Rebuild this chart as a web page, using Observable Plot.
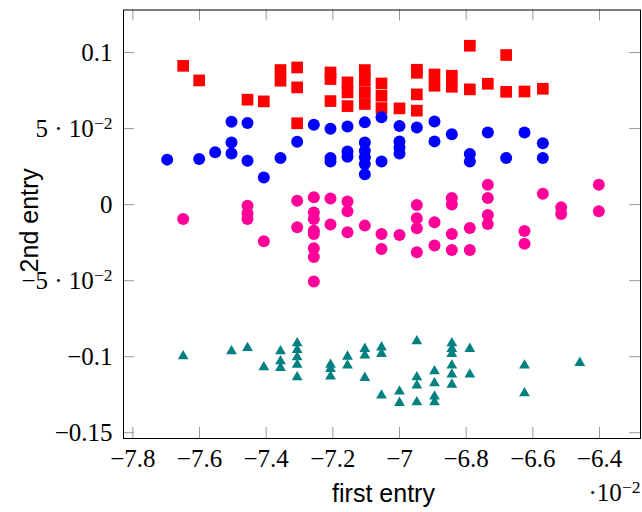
<!DOCTYPE html>
<html><head><meta charset="utf-8">
<script src="https://cdn.jsdelivr.net/npm/d3@7"></script>
<script src="https://cdn.jsdelivr.net/npm/@observablehq/plot@0.6"></script>
<style>body{margin:0;background:#fff}</style>
</head><body><div id="chart"></div>
<script>
// x values are in units of 10^-2 (as the axis shows)
const redX = [-7.649,-7.601,-7.456,-7.407,-7.357,-7.357,-7.307,-7.307,-7.307,-7.207,-7.207,-7.207,-7.156,-7.156,-7.156,-7.104,-7.104,-7.104,-7.104,-7.054,-7.054,-7.054,-7.000,-6.948,-6.948,-6.948,-6.948,-6.895,-6.895,-6.843,-6.843,-6.789,-6.789,-6.735,-6.680,-6.680,-6.625,-6.570];
const redY = [0.0913,0.0817,0.0690,0.0679,0.0885,0.0815,0.0902,0.0771,0.0535,0.0869,0.0826,0.0681,0.0804,0.0738,0.0648,0.0885,0.0815,0.0738,0.0662,0.0797,0.0716,0.0635,0.0633,0.0887,0.0867,0.0725,0.0618,0.0856,0.0782,0.0848,0.0775,0.1045,0.0758,0.0795,0.0984,0.0742,0.0744,0.0762];

const blueX = [-7.697,-7.601,-7.553,-7.504,-7.504,-7.504,-7.456,-7.456,-7.407,-7.357,-7.307,-7.257,-7.207,-7.207,-7.207,-7.156,-7.156,-7.156,-7.104,-7.104,-7.104,-7.104,-7.104,-7.104,-7.054,-7.054,-7.000,-7.000,-7.000,-7.000,-6.948,-6.895,-6.895,-6.843,-6.789,-6.789,-6.735,-6.680,-6.625,-6.570,-6.570];
const blueY = [0.0296,0.0300,0.0344,0.0545,0.0409,0.0337,0.0537,0.0289,0.0179,0.0307,0.0414,0.0526,0.0499,0.0307,0.0284,0.0514,0.0350,0.0315,0.0541,0.0409,0.0355,0.0311,0.0267,0.0200,0.0574,0.0283,0.0517,0.0416,0.0376,0.0337,0.0508,0.0547,0.0416,0.0463,0.0333,0.0284,0.0475,0.0307,0.0475,0.0403,0.0307];

const pinkX = [-7.649,-7.456,-7.456,-7.456,-7.407,-7.307,-7.307,-7.257,-7.257,-7.257,-7.257,-7.257,-7.257,-7.257,-7.257,-7.207,-7.207,-7.156,-7.156,-7.156,-7.104,-7.054,-7.054,-7.000,-6.948,-6.948,-6.948,-6.948,-6.895,-6.895,-6.843,-6.843,-6.843,-6.843,-6.789,-6.789,-6.735,-6.735,-6.735,-6.735,-6.625,-6.625,-6.570,-6.515,-6.515,-6.402,-6.402];
const pinkY = [-0.0094,-0.0007,-0.0057,-0.0094,-0.0241,0.0026,-0.0149,0.0048,-0.0051,-0.0094,-0.0171,-0.0193,-0.0287,-0.0345,-0.0505,0.0041,-0.0131,0.0020,-0.0044,-0.0182,-0.0138,-0.0193,-0.0291,-0.0199,-0.0003,-0.0090,-0.0156,-0.0313,-0.0116,-0.0269,0.0044,0.0001,-0.0193,-0.0298,-0.0153,-0.0298,0.0130,0.0044,-0.0068,-0.0127,-0.0173,-0.0258,0.0072,-0.0018,-0.0061,0.0131,-0.0044];

const tealX = [-7.649,-7.504,-7.456,-7.407,-7.357,-7.357,-7.357,-7.307,-7.307,-7.307,-7.307,-7.307,-7.207,-7.207,-7.207,-7.156,-7.156,-7.104,-7.104,-7.104,-7.054,-7.054,-7.054,-7.000,-7.000,-6.948,-6.948,-6.948,-6.948,-6.895,-6.895,-6.895,-6.895,-6.843,-6.843,-6.843,-6.843,-6.843,-6.843,-6.789,-6.789,-6.625,-6.625,-6.459];
const tealY = [-0.0997,-0.0964,-0.0942,-0.1069,-0.0964,-0.1030,-0.1073,-0.0911,-0.0955,-0.1003,-0.1053,-0.1135,-0.1053,-0.1080,-0.1130,-0.0999,-0.1058,-0.0948,-0.0992,-0.1139,-0.0938,-0.0981,-0.1255,-0.1229,-0.1303,-0.0898,-0.1135,-0.1189,-0.1299,-0.1095,-0.1174,-0.1261,-0.1299,-0.0911,-0.0948,-0.0981,-0.1058,-0.1117,-0.1183,-0.0948,-0.1117,-0.1058,-0.1240,-0.1040];

const xTicks = [-7.8,-7.6,-7.4,-7.2,-7,-6.8,-6.6,-6.4];
const yTicks = [0.1,0.05,0,-0.05,-0.1,-0.15];
const yTickLabels = ["0.1","5 · 10^−2","0","−5 · 10^−2","−0.1","−0.15"];
const xLabel = "first entry";
const xMultiplier = "·10^−2";
const yLabel = "2nd entry";

const zip = (xs, ys) => xs.map((x, i) => ({x, y: ys[i]}));
const red = zip(redX, redY), blue = zip(blueX, blueY), pink = zip(pinkX, pinkY), teal = zip(tealX, tealY);

const W = 642, H = 512, mL = 123, mR = 2, mT = 9.5, mB = 74;
const innerW = W - mL - mR, innerH = H - mT - mB, tickLen = 11;
const serif = "'Liberation Serif', 'DejaVu Serif', serif";
const sans = "'Liberation Sans', 'DejaVu Sans', sans-serif";

const chart = Plot.plot({
  width: W, height: H,
  marginLeft: mL, marginRight: mR, marginTop: mT, marginBottom: mB,
  style: {background: "#fff", fontFamily: serif, fontSize: "25px", color: "black"},
  x: {domain: [-7.828, -6.277], axis: null},
  y: {domain: [-0.1538, 0.128], axis: null},
  marks: [
    Plot.tickX(xTicks, {x: d => d, insetTop: innerH - tickLen, stroke: "#999", strokeWidth: 1}),
    Plot.tickX(xTicks, {x: d => d, insetBottom: innerH - tickLen, stroke: "#999", strokeWidth: 1}),
    Plot.tickY(yTicks, {y: d => d, insetRight: innerW - tickLen, stroke: "#999", strokeWidth: 1}),
    Plot.tickY(yTicks, {y: d => d, insetLeft: innerW - tickLen, stroke: "#999", strokeWidth: 1}),
    Plot.axisX({ticks: xTicks, tickSize: 0, tickPadding: 11, label: null, fill: "black",
      fontFamily: serif, fontSize: 25,
      tickFormat: d => String(d).replace("-", "−")}),
    Plot.axisY({ticks: yTicks, tickSize: 0, tickPadding: 11, label: null, fill: "black",
      fontFamily: serif, fontSize: 25,
      tickFormat: d => yTickLabels[yTicks.findIndex(t => Math.abs(t - d) < 1e-9)]}),
    Plot.dot(red, {x: "x", y: "y", symbol: "square", r: 6.6, fill: "#ff0000", stroke: "none"}),
    Plot.dot(blue, {x: "x", y: "y", symbol: "circle", r: 6, fill: "#0000ff", stroke: "none"}),
    Plot.dot(pink, {x: "x", y: "y", symbol: "circle", r: 6, fill: "#ff0099", stroke: "none"}),
    Plot.dot(teal, {x: "x", y: "y", symbol: "triangle", r: 4, fill: "#008080", stroke: "none"}),
    Plot.frame({stroke: "black", strokeWidth: 1}),
    Plot.text([xLabel], {text: d => d, frameAnchor: "bottom", textAnchor: "middle", dx: 1.5, dy: 63, lineAnchor: "bottom",
      fontFamily: sans, fontSize: 25, fill: "black"}),
    Plot.text([xMultiplier], {text: d => d, frameAnchor: "bottom-right", textAnchor: "end", dx: 0, dy: 62,
      lineAnchor: "bottom", fontFamily: serif, fontSize: 25, fill: "black"}),
    Plot.text([yLabel], {text: d => d, frameAnchor: "left", textAnchor: "middle", rotate: -90, dx: -86, dy: -4, lineAnchor: "bottom",
      fontFamily: sans, fontSize: 25, fill: "black"})
  ]
});

// render "^" exponents as superscripts
d3.select(chart).selectAll("text").each(function () {
  const t = this.textContent;
  if (!t.includes("^")) return;
  const [base, exp] = t.split("^");
  const sel = d3.select(this);
  sel.text(null);
  sel.append("tspan").text(base);
  sel.append("tspan").attr("dy", "-0.42em").attr("font-size", "17.5px").text(exp);
});

document.getElementById("chart").appendChild(chart);
</script>
</body></html>
